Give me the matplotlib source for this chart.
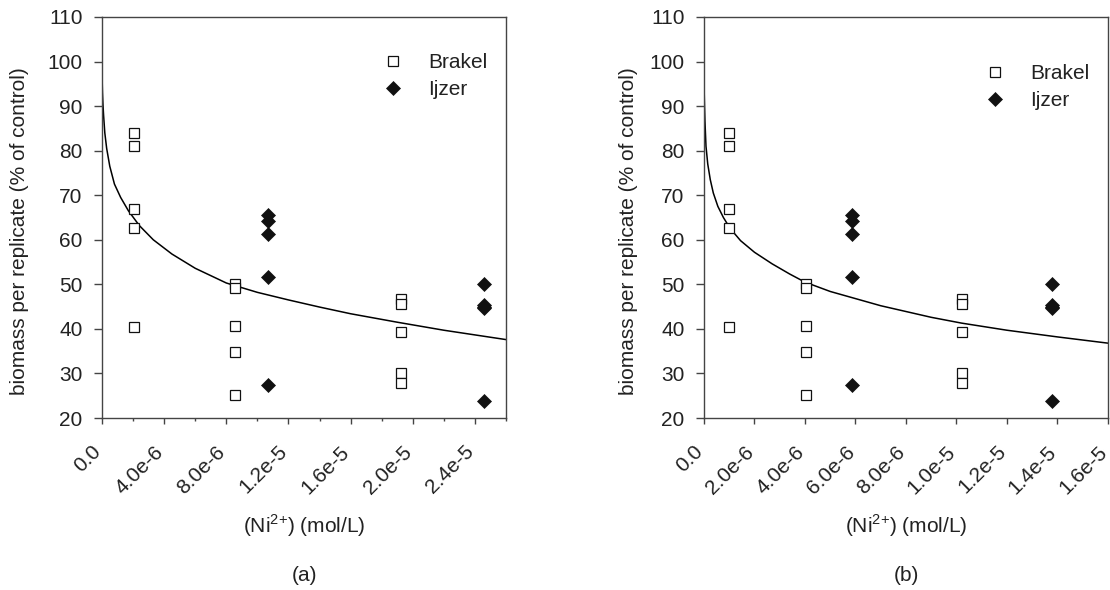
import matplotlib
matplotlib.use('Agg')
import matplotlib.pyplot as plt

plt.rcParams['font.family'] = ['Liberation Sans', 'DejaVu Sans']
plt.rcParams['mathtext.fontset'] = 'custom'
plt.rcParams['mathtext.rm'] = 'Liberation Sans'

# biomass per replicate (% of control), same replicates in both panels
brakel_y = [84.0, 81.0, 66.9, 62.6, 40.4,
            50.0, 49.2, 40.6, 34.8, 25.1,
            46.8, 45.7, 39.3, 30.1, 27.8]
ijzer_y = [65.6, 64.3, 61.3, 51.7, 27.3,
           50.0, 45.3, 44.9, 44.7, 23.9]

# (a) concentrations (mol/L)
brakel_x_a = [2.09e-6, 2.09e-6, 2.09e-6, 2.09e-6, 2.09e-6,
              8.53e-6, 8.53e-6, 8.53e-6, 8.53e-6, 8.53e-6,
              19.25e-6, 19.25e-6, 19.25e-6, 19.25e-6, 19.25e-6]
ijzer_x_a = [10.67e-6, 10.67e-6, 10.67e-6, 10.67e-6, 10.67e-6,
             24.58e-6, 24.58e-6, 24.58e-6, 24.58e-6, 24.58e-6]

# (b) concentrations (mol/L)
brakel_x_b = [0.99e-6, 0.99e-6, 0.99e-6, 0.99e-6, 0.99e-6,
              4.05e-6, 4.05e-6, 4.05e-6, 4.05e-6, 4.05e-6,
              10.2e-6, 10.2e-6, 10.2e-6, 10.2e-6, 10.2e-6]
ijzer_x_b = [5.88e-6, 5.88e-6, 5.88e-6, 5.88e-6, 5.88e-6,
             13.77e-6, 13.77e-6, 13.77e-6, 13.77e-6, 13.77e-6]

# fitted curves, points
curve_x_a = [0, 0.005e-6, 0.015e-6, 0.03e-6, 0.06e-6, 0.1e-6, 0.18e-6,
             0.3e-6, 0.5e-6, 0.8e-6, 1.2e-6, 1.7e-6, 2.4e-6, 3.3e-6,
             4.5e-6, 6.0e-6, 8.0e-6, 10.0e-6, 12.0e-6, 14.0e-6, 16.0e-6,
             19.0e-6, 22.0e-6, 26.0e-6]
curve_y_a = [100, 97, 95, 93, 90.5, 88, 84, 80.5, 76.5, 72.5, 69.5, 66.5,
             63.2, 60, 56.8, 53.6, 50.3, 48.2, 46.5, 44.9, 43.4, 41.5,
             39.7, 37.6]

curve_x_b = [0, 0.003e-6, 0.01e-6, 0.02e-6, 0.04e-6, 0.08e-6, 0.15e-6,
             0.25e-6, 0.37e-6, 0.55e-6, 0.77e-6, 1.03e-6, 1.45e-6, 2.0e-6,
             2.7e-6, 3.4e-6, 4.0e-6, 5.0e-6, 6.0e-6, 7.0e-6, 8.0e-6,
             9.0e-6, 10.2e-6, 12.0e-6, 14.0e-6, 16.0e-6]
curve_y_b = [100, 96, 93, 90.5, 86.5, 81, 77, 73.5, 70.5, 67.5, 65, 62.6,
             59.8, 57.2, 54.6, 52.3, 50.5, 48.4, 46.8, 45.2, 43.9, 42.6,
             41.3, 39.7, 38.2, 36.8]

yticks = [20, 30, 40, 50, 60, 70, 80, 90, 100, 110]
xticks_a = [0, 4e-6, 8e-6, 1.2e-5, 1.6e-5, 2.0e-5, 2.4e-5]
xlabels_a = ['0.0', '4.0e-6', '8.0e-6', '1.2e-5', '1.6e-5', '2.0e-5', '2.4e-5']
minor_a = [2e-6, 6e-6, 1.0e-5, 1.4e-5, 1.8e-5, 2.2e-5, 2.6e-5]
xticks_b = [0, 2e-6, 4e-6, 6e-6, 8e-6, 1.0e-5, 1.2e-5, 1.4e-5, 1.6e-5]
xlabels_b = ['0.0', '2.0e-6', '4.0e-6', '6.0e-6', '8.0e-6', '1.0e-5',
             '1.2e-5', '1.4e-5', '1.6e-5']

txt = '#222222'
fs = 15

fig = plt.figure(figsize=(11.1, 5.9), dpi=100)
ax_a = fig.add_axes([0.0919, 0.2915, 0.364, 0.6797])
ax_b = fig.add_axes([0.6342, 0.2915, 0.364, 0.6797])


def draw(ax, bx, ix, cx, cy, xmax, xt, xl, minor, leg_y, ylab_x, tag):
    ax.plot(cx, cy, color='black', lw=1.1, zorder=2)
    ax.plot(bx, brakel_y, ls='none', marker='s', ms=7.3, mfc='white',
            mec='#111111', mew=0.9, label='Brakel', zorder=3)
    ax.plot(ix, ijzer_y, ls='none', marker='D', ms=7.5, mfc='#111111',
            mec='#111111', mew=0.5, label='Ijzer', zorder=3)
    ax.set_xlim(0, xmax)
    ax.set_ylim(20, 110)
    ax.set_yticks(yticks)
    ax.set_xticks(xt)
    ax.set_xticklabels(xl, rotation=45, ha='right', va='baseline',
                       rotation_mode='anchor')
    if minor is not None:
        ax.set_xticks(minor, minor=True)
    ax.tick_params(axis='y', direction='out', length=6, width=1,
                   colors='#444444', labelcolor=txt, labelsize=fs, pad=8)
    ax.tick_params(axis='x', which='major', direction='out', length=4.5,
                   width=1, colors='#444444', labelcolor=txt,
                   labelsize=fs, pad=20.5)
    ax.tick_params(axis='x', which='minor', direction='out', length=2.5,
                   width=1, colors='#444444')
    for s in ax.spines.values():
        s.set_color('#444444')
        s.set_linewidth(1)
    ax.legend(loc='upper left', bbox_to_anchor=(0.694, leg_y),
              frameon=False, fontsize=fs, handlelength=1,
              handletextpad=1.2, labelspacing=0.4, borderpad=0,
              borderaxespad=0, labelcolor=txt)
    ax.text(ylab_x, 0.466, 'biomass per replicate (% of control)',
            rotation=90, ha='center', va='center', fontsize=fs,
            color=txt, transform=ax.transAxes)
    ax.text(0.5, -0.269, r'(Ni$^{\text{2+}}$) (mol/L)', ha='center',
            va='center', fontsize=fs, color=txt, transform=ax.transAxes)
    ax.text(0.5, -0.392, tag, ha='center', va='center', fontsize=fs,
            color=txt, transform=ax.transAxes)


draw(ax_a, brakel_x_a, ijzer_x_a, curve_x_a, curve_y_a, 2.6e-5,
     xticks_a, xlabels_a, minor_a, 0.910, -0.203, '(a)')
draw(ax_b, brakel_x_b, ijzer_x_b, curve_x_b, curve_y_b, 1.6e-5,
     xticks_b, xlabels_b, None, 0.883, -0.188, '(b)')

fig.savefig('out.png', dpi=100)
